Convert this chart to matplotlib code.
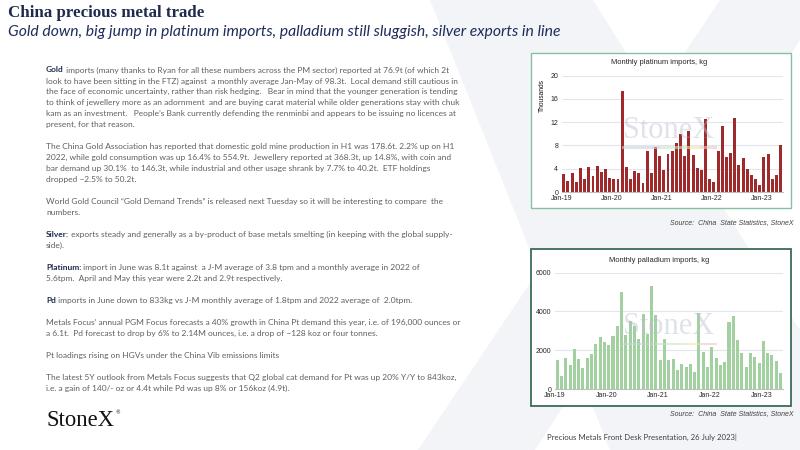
import matplotlib
matplotlib.use('Agg')
import matplotlib.pyplot as plt
import pandas as pd
from matplotlib.patches import Polygon, Rectangle

# ---------------- data ----------------
months = pd.date_range('2019-02-01', '2023-06-01', freq='MS')
month_labels = [d.strftime('%b-%y') for d in months]

platinum_thousand_kg = [3.1, 1.9, 3.2, 1.7, 4.2, 2.2, 4.3, 2.8, 4.4, 3.5,
                        4.0, 2.4, 2.3, 2.3, 17.3, 4.3, 2.3, 3.6, 3.2, 1.5,
                        7.0, 3.2, 7.7, 6.2, 3.8, 6.6, 7.0, 8.4, 9.9, 6.2,
                        10.5, 6.3, 4.2, 3.8, 12.6, 2.3, 1.8, 7.0, 11.3, 6.0,
                        6.7, 12.7, 4.7, 5.8, 3.9, 2.9, 2.3, 1.2, 6.1, 6.5,
                        2.2, 2.9, 8.1]

palladium_kg = [1480, 650, 1580, 1220, 2050, 1550, 1100, 1600, 1830, 2300,
                2670, 2420, 2250, 2730, 3250, 5000, 2780, 3500, 3230, 2590,
                3850, 2830, 5300, 3810, 1480, 2600, 1510, 1570, 1000, 1280,
                1150, 1310, 900, 3940, 1900, 1140, 2150, 1580, 1250, 1380,
                3440, 3770, 2540, 1850, 1120, 1860, 1640, 1340, 2490, 1850,
                1750, 1420, 830]

x_tick_labels = ['Jan-19', 'Jan-20', 'Jan-21', 'Jan-22', 'Jan-23']
plat_yticks = [0, 4, 8, 12, 16, 20]
pall_yticks = [0, 2000, 4000, 6000]

title = 'China precious metal trade'
subtitle = 'Gold down, big jump in platinum imports, palladium still sluggish, silver exports in line'

paragraphs = [
    ('Gold', [' imports (many thanks to Ryan for all these numbers across the PM sector) reported at 76.9t (of which 2t',
              'look to have been sitting in the FTZ) against  a monthly average Jan-May of 98.3t.  Local demand still cautious in',
              'the face of economic uncertainty, rather than risk hedging.   Bear in mind that the younger generation is tending',
              'to think of jewellery more as an adornment  and are buying carat material while older generations stay with chuk',
              'kam as an investment.   People\u2019s Bank currently defending the renminbi and appears to be issuing no licences at',
              'present, for that reason.']),
    ('', ['The China Gold Association has reported that domestic gold mine production in H1 was 178.6t. 2.2% up on H1',
          '2022, while gold consumption was up 16.4% to 554.9t.  Jewellery reported at 368.3t, up 14.8%, with coin and',
          'bar demand up 30.1%  to 146.3t, while industrial and other usage shrank by 7.7% to 40.2t.  ETF holdings',
          'dropped ~2.5% to 50.2t.']),
    ('', ['World Gold Council \u201cGold Demand Trends\u201d is released next Tuesday so it will be interesting to compare  the',
          'numbers.']),
    ('Silver:', [' exports steady and generally as a by-product of base metals smelting (in keeping with the global supply-',
                 'side).']),
    ('Platinum:', [' import in June was 8.1t against  a J-M average of 3.8 tpm and a monthly average in 2022 of',
                   '5.6tpm.  April and May this year were 2.2t and 2.9t respectively.']),
    ('Pd', [' imports in June down to 833kg vs J-M monthly average of 1.8tpm and 2022 average of  2.0tpm.']),
    ('', ['Metals Focus\u2019 annual PGM Focus forecasts a 40% growth in China Pt demand this year, i.e. of 196,000 ounces or',
          'a 6.1t.  Pd forecast to drop by 6% to 2.14M ounces, i.e. a drop of ~128 koz or four tonnes.']),
    ('', ['Pt loadings rising on HGVs under the China Vib emissions limits']),
    ('', ['The latest 5Y outlook from Metals Focus suggests that Q2 global cat demand for Pt was up 20% Y/Y to 843koz,',
          'i.e. a gain of 140/- oz or 4.4t while Pd was up 8% or 156koz (4.9t).']),
]

# ---------------- figure ----------------
W, H = 800, 450
fig = plt.figure(figsize=(8, 4.5), dpi=100)
fig.patch.set_facecolor('white')
bg = fig.add_axes([0, 0, 1, 1])
bg.set_xlim(0, W)
bg.set_ylim(H, 0)
bg.axis('off')
R = fig.canvas.get_renderer()

NAVY = '#1f2b4e'
GREY = '#5f5f5f'
XGREY = '#f3f4f7'

# background X shape
bg.add_patch(Polygon([(720, 0), (800, 0), (800, 40), (535, 450), (418, 450)],
                     closed=True, facecolor=XGREY, edgecolor='none', zorder=0))
bg.add_patch(Polygon([(430, 0), (593, 0), (800, 330), (800, 450), (610, 450)],
                     closed=True, facecolor=XGREY, edgecolor='none', zorder=0))


def fit(t, target):
    w = t.get_window_extent(R).width
    t.set_fontsize(t.get_fontsize() * target / w)


t = bg.text(8, 13, title, family='Liberation Serif', weight='bold', fontsize=14,
            color=NAVY, va='center', ha='left')
fit(t, 197)
t = bg.text(8, 32, subtitle, family='Lato', style='italic', fontsize=10,
            color='#1f2d5c', va='center', ha='left')
fit(t, 555)

# body text
probe = bg.text(0, -100, 'Gold' + paragraphs[0][1][0], family='Lato', fontsize=6)
fit(probe, 406)
BFS = probe.get_fontsize()
probe.remove()

y = 70.0
step = 10.97
for lead, lines in paragraphs:
    for i, line in enumerate(lines):
        x = 46
        if i == 0 and lead:
            tl = bg.text(x, y, lead, family='Lato', weight='bold', fontsize=BFS,
                         color=NAVY, va='center', ha='left')
            x += tl.get_window_extent(R).width
        bg.text(x, y, line, family='Lato', fontsize=BFS, color=GREY,
                va='center', ha='left')
        y += step
    y += step

# logo
t = bg.text(46, 420, 'StoneX', family='Liberation Serif', fontsize=16,
            color='#111111', va='center', ha='left')
fit(t, 68)
bg.text(115, 413, '\u00ae', family='DejaVu Sans', fontsize=3.5, color='#111111',
        va='center', ha='left')

# footer
bg.text(547, 437.7, 'Precious Metals Front Desk Presentation, 26 July 2023|',
        family='Lato', fontsize=5.6, color='#404040', va='center', ha='left')

# chart boxes
bg.add_patch(Rectangle((530.7, 52.7), 260, 155.6, facecolor='white',
                       edgecolor='#84c1a3', lw=1.0, zorder=1))
bg.add_patch(Rectangle((530.7, 249.3), 260.6, 156.4, facecolor='white',
                       edgecolor='#3d6b57', lw=1.3, zorder=1))

bg.text(659, 63, 'Monthly platinum imports, kg', family='Liberation Sans',
        fontsize=5.4, color='#262626', ha='center', va='center', zorder=3)
bg.text(659, 260, 'Monthly palladium imports, kg', family='Liberation Sans',
        fontsize=5.4, color='#262626', ha='center', va='center', zorder=3)
bg.text(542.7, 95, 'Thousands', family='Liberation Sans', fontsize=4.8,
        color='#111111', rotation=90, ha='center', va='center', zorder=3)
bg.text(793, 222.7, 'Source:  China  State Statistics, StoneX', family='Liberation Sans',
        style='italic', fontsize=5.0, color='#404040', ha='right', va='center')
bg.text(793, 413.3, 'Source:  China  State Statistics, StoneX', family='Liberation Sans',
        style='italic', fontsize=5.0, color='#404040', ha='right', va='center')


def make_chart(rect_px, values, yticks, color, width, wm_y, ul_y):
    l, t_, r, b = rect_px
    ax = fig.add_axes([l / W, 1 - b / H, (r - l) / W, (b - t_) / H])
    ax.set_facecolor('none')
    n = len(values)
    pos = list(range(n))
    ax.bar(pos, values, width=width, color=color, zorder=2)
    ax.set_xlim(-0.5, n - 0.5)
    ax.set_ylim(yticks[0], yticks[-1])
    ax.set_yticks(yticks)
    ax.set_yticklabels([str(v) for v in yticks])
    jan_pos = [month_labels.index(lab) + 0.5 if lab in month_labels else -0.5
               for lab in x_tick_labels]
    ax.set_xticks(jan_pos)
    ax.set_xticklabels(x_tick_labels)
    ax.grid(axis='y', color='#e4e4ef', lw=0.8, zorder=0)
    ax.set_axisbelow(True)
    for s in ['top', 'right', 'left']:
        ax.spines[s].set_visible(False)
    ax.spines['bottom'].set_color('#bfbfbf')
    ax.spines['bottom'].set_linewidth(0.8)
    ax.tick_params(axis='both', length=0, labelsize=5.0, colors='#262626', pad=2.5)
    for lab in ax.get_xticklabels() + ax.get_yticklabels():
        lab.set_family('Liberation Sans')
    # watermark
    ax.text(669, wm_y, 'StoneX', family='Liberation Serif', fontsize=22,
            color='#b8c0cc', alpha=0.45, ha='center', va='center',
            transform=bg.transData, zorder=5, clip_on=False)
    segs = [(622, 660, '#c9d2dc'), (660, 686, '#c9e3c3'),
            (686, 700, '#f0e2a8'), (700, 717, '#f0c4c4')]
    for x0, x1, c in segs:
        ax.add_patch(Rectangle((x0, ul_y - 1.2), x1 - x0, 2.4, facecolor=c,
                               edgecolor='none', alpha=0.6, transform=bg.transData,
                               zorder=5, clip_on=False))
    return ax


make_chart((561.7, 75.7, 782.7, 192.0), platinum_thousand_kg, plat_yticks,
           '#9e2a2b', 0.7, 130, 147.3)
make_chart((555.0, 272.7, 782.7, 389.0), palladium_kg, pall_yticks,
           '#a3d0a0', 0.7, 327, 344)

fig.savefig('out.png', dpi=100)
